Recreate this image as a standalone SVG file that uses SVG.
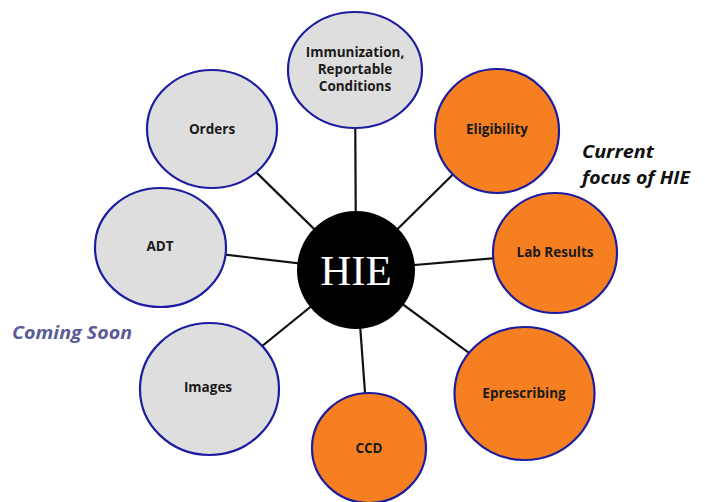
<svg xmlns="http://www.w3.org/2000/svg" width="705" height="502" viewBox="0 0 705 502">
<style>
.gray{fill:#dedede;stroke:#1c1ca0;stroke-width:2.2}
.orange{fill:#f68021;stroke:#1c1ca0;stroke-width:2.2}
.lbl{font-family:"Open Sans","Liberation Sans",sans-serif;font-weight:bold;font-size:13.5px;fill:#1a1a1a;text-anchor:middle}
.conn line{stroke:#111;stroke-width:2.2}
.note{font-family:"Open Sans","Liberation Sans",sans-serif;font-weight:bold;font-style:italic;font-size:18.5px}
</style>
<rect width="705" height="502" fill="#fff"/>
<g id="connectors" class="conn">
<line x1="356" y1="270" x2="355" y2="70"/>
<line x1="356" y1="270" x2="212" y2="129"/>
<line x1="356" y1="270" x2="497" y2="131"/>
<line x1="356" y1="270" x2="160" y2="247"/>
<line x1="356" y1="270" x2="555" y2="253"/>
<line x1="356" y1="270" x2="209" y2="389"/>
<line x1="356" y1="270" x2="525" y2="394"/>
<line x1="356" y1="270" x2="369" y2="447"/>
</g>
<g id="hie">
<circle cx="356" cy="270" r="59" fill="#000"/>
<text x="356" y="285" font-family="Liberation Serif,serif" font-size="43" fill="#fff" text-anchor="middle">HIE</text>
</g>
<g id="immunization">
<ellipse class="gray" cx="355" cy="70" rx="67" ry="58"/>
<text class="lbl" x="355" y="57">Immunization,</text>
<text class="lbl" x="355" y="74">Reportable</text>
<text class="lbl" x="355" y="91">Conditions</text>
</g>
<g id="orders">
<ellipse class="gray" cx="212" cy="129" rx="65" ry="59"/>
<text class="lbl" x="212" y="134">Orders</text>
</g>
<g id="eligibility">
<ellipse class="orange" cx="497" cy="131" rx="62" ry="62"/>
<text class="lbl" x="497" y="134">Eligibility</text>
</g>
<g id="adt">
<ellipse class="gray" cx="160.5" cy="247.5" rx="65.5" ry="59.5"/>
<text class="lbl" x="160" y="251">ADT</text>
</g>
<g id="labresults">
<ellipse class="orange" cx="555" cy="253" rx="62" ry="60"/>
<text class="lbl" x="555" y="257">Lab Results</text>
</g>
<g id="images">
<ellipse class="gray" cx="209.5" cy="389" rx="69.5" ry="66"/>
<text class="lbl" x="208" y="392">Images</text>
</g>
<g id="eprescribing">
<ellipse class="orange" cx="524.5" cy="393.5" rx="70" ry="66.5"/>
<text class="lbl" x="524" y="398">Eprescribing</text>
</g>
<g id="ccd">
<ellipse class="orange" cx="369" cy="448" rx="57" ry="55"/>
<text class="lbl" x="369" y="453">CCD</text>
</g>
<text class="note" x="582" y="158" fill="#111" textLength="72" lengthAdjust="spacingAndGlyphs">Current</text>
<text class="note" x="582" y="184" fill="#111" textLength="108" lengthAdjust="spacingAndGlyphs">focus of HIE</text>
<text class="note" x="12" y="339" fill="#5b5b98" textLength="120" lengthAdjust="spacingAndGlyphs">Coming Soon</text>
</svg>
